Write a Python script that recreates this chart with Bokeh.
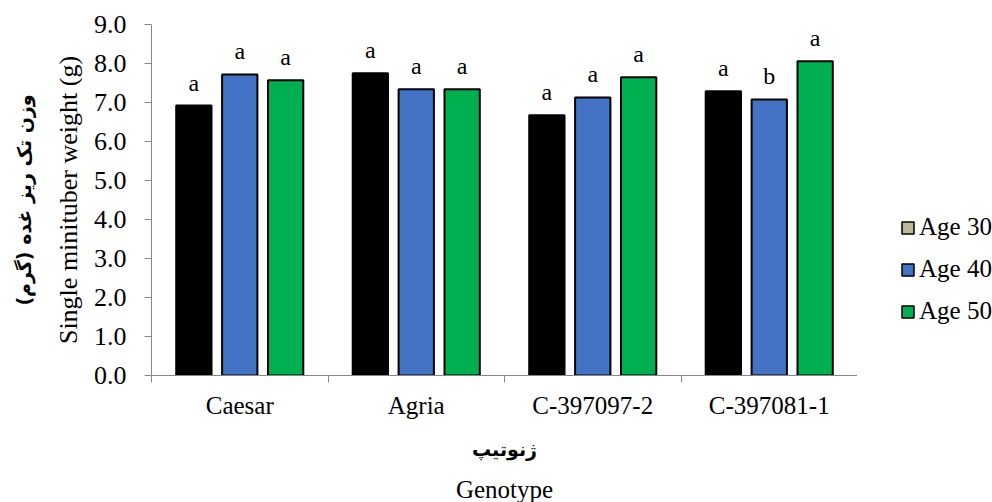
from bokeh.plotting import figure
from bokeh.layouts import row
from bokeh.models import ColumnDataSource, Range1d, FixedTicker, NumeralTickFormatter, Title, Legend, LegendItem
from bokeh.transform import dodge
from bokeh.core.properties import value
from bokeh.embed import file_html
from bokeh.resources import INLINE

# ---- data ----
genotypes = ["Caesar", "Agria", "C-397097-2", "C-397081-1"]
ages = ["Age 30", "Age 40", "Age 50"]
age30 = [6.92, 7.75, 6.67, 7.29]
age40 = [7.72, 7.34, 7.13, 7.08]
age50 = [7.57, 7.34, 7.65, 8.06]
letters30 = ["a", "a", "a", "a"]
letters40 = ["a", "a", "a", "b"]
letters50 = ["a", "a", "a", "a"]
y_ticks = [0, 1, 2, 3, 4, 5, 6, 7, 8, 9]

# ---- styles ----
bar_colors = ["#000000", "#4472C4", "#00B050"]
legend_colors = ["#B9B99A", "#4472C4", "#00B050"]
offsets = [-0.26, 0.0, 0.26]
SERIF = "Liberation Serif"
AXIS_COLOR = "#868686"

centers = [i + 0.5 for i in range(len(genotypes))]
bounds = [i for i in range(len(genotypes) + 1)]

source = ColumnDataSource(dict(x=centers, genotype=genotypes,
                               a30=age30, a40=age40, a50=age50,
                               l30=letters30, l40=letters40, l50=letters50))

p = figure(width=857, height=502, x_range=Range1d(0, len(genotypes)), y_range=Range1d(0, 9),
           output_backend="svg", toolbar_location=None,
           min_border_left=145, min_border_right=0, min_border_top=24, min_border_bottom=126)
p.outline_line_color = None
p.xgrid.grid_line_color = None
p.ygrid.grid_line_color = None
p.background_fill_color = "white"
p.border_fill_color = "white"

for col, lcol, color, off in zip(["a30", "a40", "a50"], ["l30", "l40", "l50"], bar_colors, offsets):
    p.vbar(x=dodge("x", off), top=col, width=0.2, bottom=0, source=source,
           fill_color=color, line_color="black", line_width=2)
    p.text(x=dodge("x", off), y=col, text=lcol, source=source,
           text_align="center", text_baseline="alphabetic", y_offset=-23,
           text_font=value(SERIF), text_font_size="24px", text_color="black")

# x axis
xa = p.xaxis[0]
xa.ticker = FixedTicker(ticks=centers, minor_ticks=bounds)
xa.major_label_overrides = {c: g for c, g in zip(centers, genotypes)}
xa.major_tick_line_color = None
xa.major_tick_out = 0
xa.major_tick_in = 0
xa.minor_tick_in = 0
xa.minor_tick_out = 7
xa.minor_tick_line_color = AXIS_COLOR
xa.axis_line_color = AXIS_COLOR
xa.major_label_text_font = SERIF
xa.major_label_text_font_size = "25px"
xa.major_label_text_color = "black"
xa.major_label_standoff = 9

# y axis
ya = p.yaxis[0]
ya.ticker = FixedTicker(ticks=y_ticks, minor_ticks=[])
ya.formatter = NumeralTickFormatter(format="0.0")
ya.major_tick_in = 0
ya.major_tick_out = 7
ya.major_tick_line_color = AXIS_COLOR
ya.axis_line_color = AXIS_COLOR
ya.minor_tick_line_color = None
ya.major_label_text_font = SERIF
ya.major_label_text_font_size = "26px"
ya.major_label_text_color = "black"
ya.major_label_standoff = 18

# axis titles
p.add_layout(Title(text="Single minituber weight (g)", align="center", text_font=SERIF,
                   text_font_size="26px", text_font_style="normal", text_color="black",
                   standoff=15), "left")
p.add_layout(Title(text="وزن تک ریز غده (گرم)", align="center", text_font="DejaVu Sans",
                   text_font_size="19px", text_font_style="bold", text_color="black",
                   standoff=20), "left")
p.add_layout(Title(text="ژنوتیپ", align="center", text_font="DejaVu Sans",
                   text_font_size="19px", text_font_style="bold", text_color="black",
                   standoff=28), "below")
p.add_layout(Title(text="Genotype", align="center", text_font=SERIF,
                   text_font_size="25px", text_font_style="normal", text_color="black",
                   standoff=0), "below")

# legend panel (separate figure so the legend sits outside the plot frame)
lg = figure(width=135, height=502, x_range=Range1d(0, 1), y_range=Range1d(0, 1),
            output_backend="svg", toolbar_location=None,
            x_axis_location=None, y_axis_location=None,
            min_border_left=0, min_border_right=0, min_border_top=0, min_border_bottom=0)
lg.outline_line_color = None
lg.xgrid.grid_line_color = None
lg.ygrid.grid_line_color = None
nan = float("nan")
dummies = [lg.vbar(x=[nan], top=[nan], width=0.2, fill_color=c, line_color="black", line_width=1.5)
           for c in legend_colors]
legend = Legend(items=[LegendItem(label=a, renderers=[r]) for a, r in zip(ages, dummies)],
                location=(43, 50), border_line_color=None, background_fill_alpha=0,
                label_text_font=SERIF, label_text_font_size="25px", label_text_color="black",
                glyph_width=15, glyph_height=15, label_height=24, spacing=14,
                label_standoff=4, padding=4, margin=0)
lg.add_layout(legend)

layout = row(p, lg, spacing=0)
open("out.html", "w").write(file_html(layout, INLINE))
